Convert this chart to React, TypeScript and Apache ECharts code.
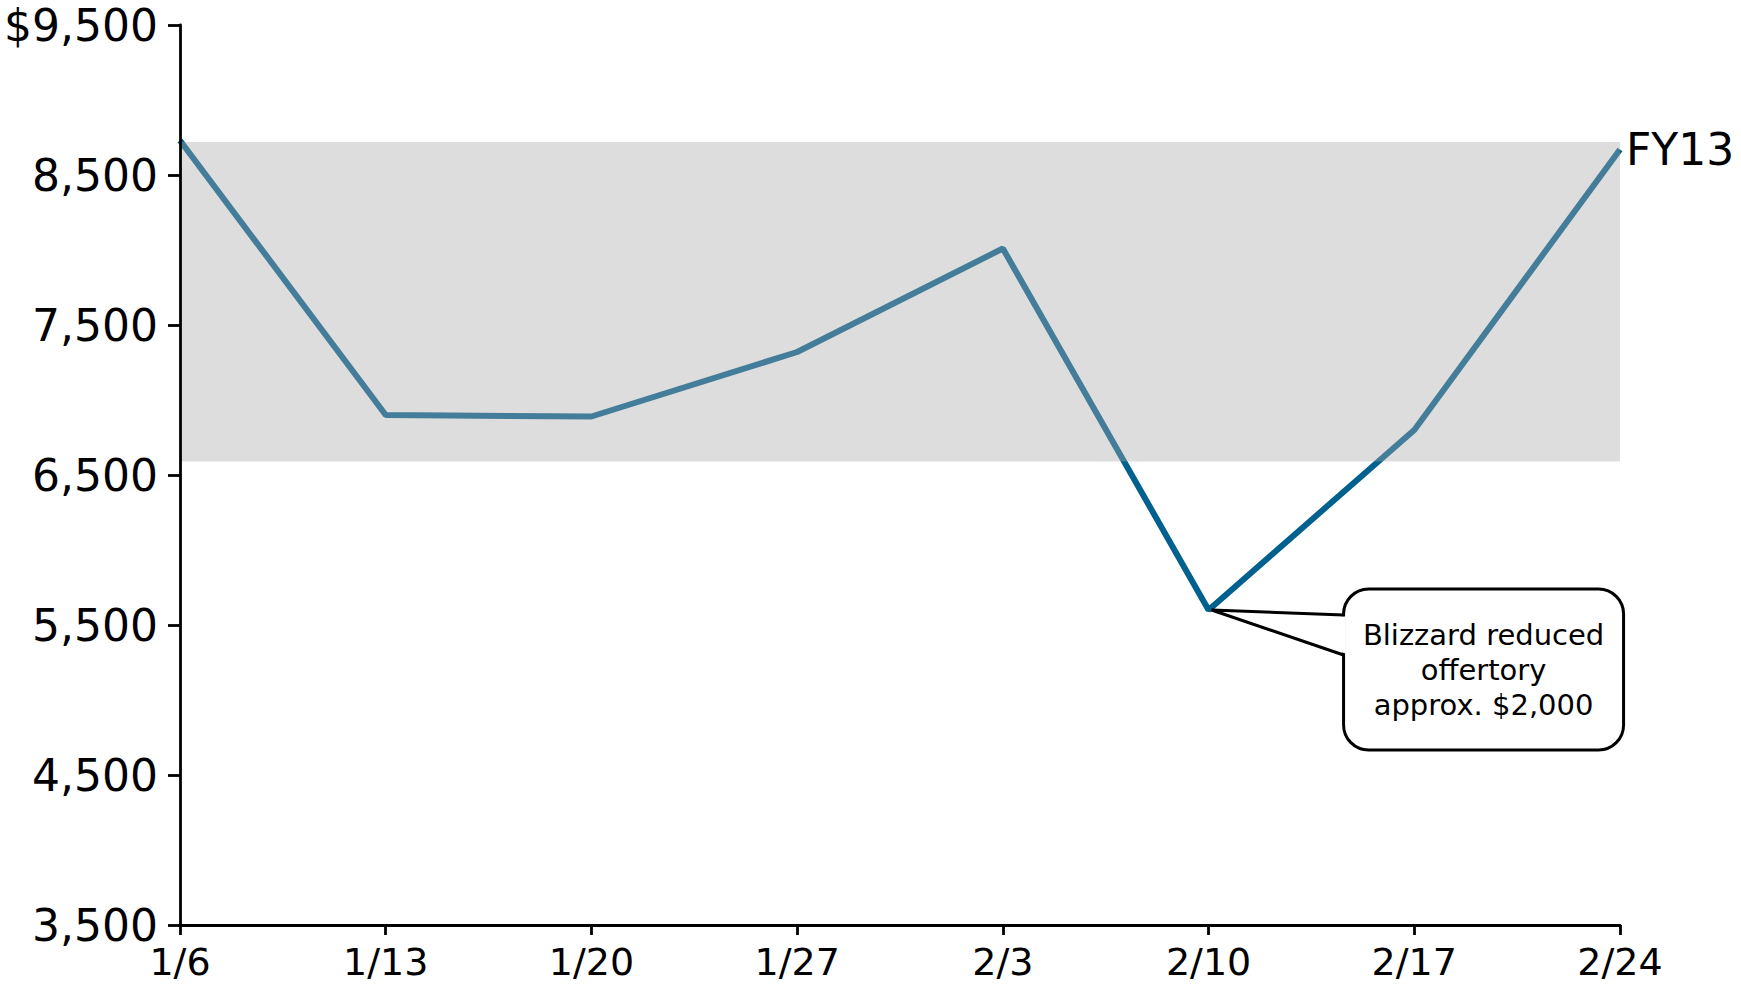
import React, { useEffect, useRef } from "react";
import * as echarts from "echarts";

const categories = ["1/6", "1/13", "1/20", "1/27", "2/3", "2/10", "2/17", "2/24"];
const offertory = [8730, 6900, 6890, 7320, 8010, 5600, 6800, 8670];
const bandBottom = 6590;
const bandTop = 8720;
const yMin = 3500;
const yMax = 9500;
const yStep = 1000;
const seriesName = "FY13";
const calloutLines = ["Blizzard reduced", "offertory", "approx. $2,000"];
const calloutIndex = 5;

const FONT = "'DejaVu Sans', Verdana, sans-serif";

export default function App() {
  const ref = useRef<HTMLDivElement>(null);
  useEffect(() => {
    document.body.style.margin = "0";
    const chart = echarts.init(ref.current!, null, { renderer: "svg" });
    chart.setOption({
      animation: false,
      grid: { left: 180, right: 121, top: 25, bottom: 63 },
      xAxis: {
        type: "category",
        data: categories,
        boundaryGap: false,
        z: 20,
        axisLine: { lineStyle: { color: "#000", width: 2.8 } },
        axisTick: { show: true, length: 10, lineStyle: { color: "#000", width: 2.8 }, alignWithLabel: true },
        axisLabel: { color: "#000", fontSize: 38, fontFamily: FONT, margin: 17, lineHeight: 40 },
        splitLine: { show: false },
      },
      yAxis: {
        type: "value",
        min: yMin,
        max: yMax,
        interval: yStep,
        z: 20,
        axisLine: { show: true, lineStyle: { color: "#000", width: 2.8 } },
        axisTick: { show: true, length: 12, lineStyle: { color: "#000", width: 2.8 } },
        axisLabel: {
          color: "#000",
          fontSize: 44,
          lineHeight: 44,
          fontFamily: FONT,
          margin: 22,
          formatter: (v: number) => (v === yMax ? "$" : "") + v.toLocaleString("en-US"),
        },
        splitLine: { show: false },
      },
      series: [
        {
          name: seriesName,
          type: "line",
          data: offertory,
          symbol: "none",
          z: 2,
          lineStyle: { color: "#00608e", width: 6 },
          endLabel: {
            show: true,
            formatter: seriesName,
            color: "#000",
            fontSize: 44,
            fontFamily: FONT,
            distance: 6,
          },
        },
        {
          type: "custom",
          z: 10,
          silent: true,
          data: [[0, bandTop, categories.length - 1, bandBottom]],
          encode: { x: [0, 2], y: [1, 3] },
          renderItem: (params: any, api: any) => {
            const p1 = api.coord([api.value(0), api.value(1)]);
            const p2 = api.coord([api.value(2), api.value(3)]);
            return {
              type: "rect",
              shape: { x: p1[0], y: p1[1], width: p2[0] - p1[0], height: p2[1] - p1[1] },
              style: { fill: "rgba(170,170,170,0.4)" },
            };
          },
        },
      ],
    });

    const tip = chart.convertToPixel({ gridIndex: 0 }, [calloutIndex, offertory[calloutIndex]]) as number[];
    const tx = tip[0] + 3;
    const ty = tip[1];
    const bx = tx + 132;
    const by = ty - 21;
    const bw = 280;
    const bh = 161;
    const j1 = ty + 5;
    const j2 = ty + 45;
    chart.setOption({
      graphic: [
        {
          type: "rect",
          z: 100,
          shape: { x: bx, y: by, width: bw, height: bh, r: 25 },
          style: { fill: "#fff", stroke: "#000", lineWidth: 3 },
        },
        {
          type: "polygon",
          z: 101,
          shape: { points: [[tx, ty], [bx + 2, j1 + 1.5], [bx + 2, j2 - 1.5]] },
          style: { fill: "#fff", stroke: null },
        },
        {
          type: "polyline",
          z: 102,
          shape: { points: [[bx, j1], [tx, ty], [bx, j2]] },
          style: { stroke: "#000", lineWidth: 3, fill: null },
        },
        {
          type: "text",
          z: 103,
          x: bx + bw / 2,
          y: by + bh / 2,
          style: {
            text: calloutLines.join("\n"),
            fontSize: 29,
            fontFamily: FONT,
            lineHeight: 35,
            fill: "#000",
            align: "center",
            verticalAlign: "middle",
          },
        },
      ],
    });
    return () => chart.dispose();
  }, []);
  return <div ref={ref} style={{ width: 1741, height: 988 }} />;
}
